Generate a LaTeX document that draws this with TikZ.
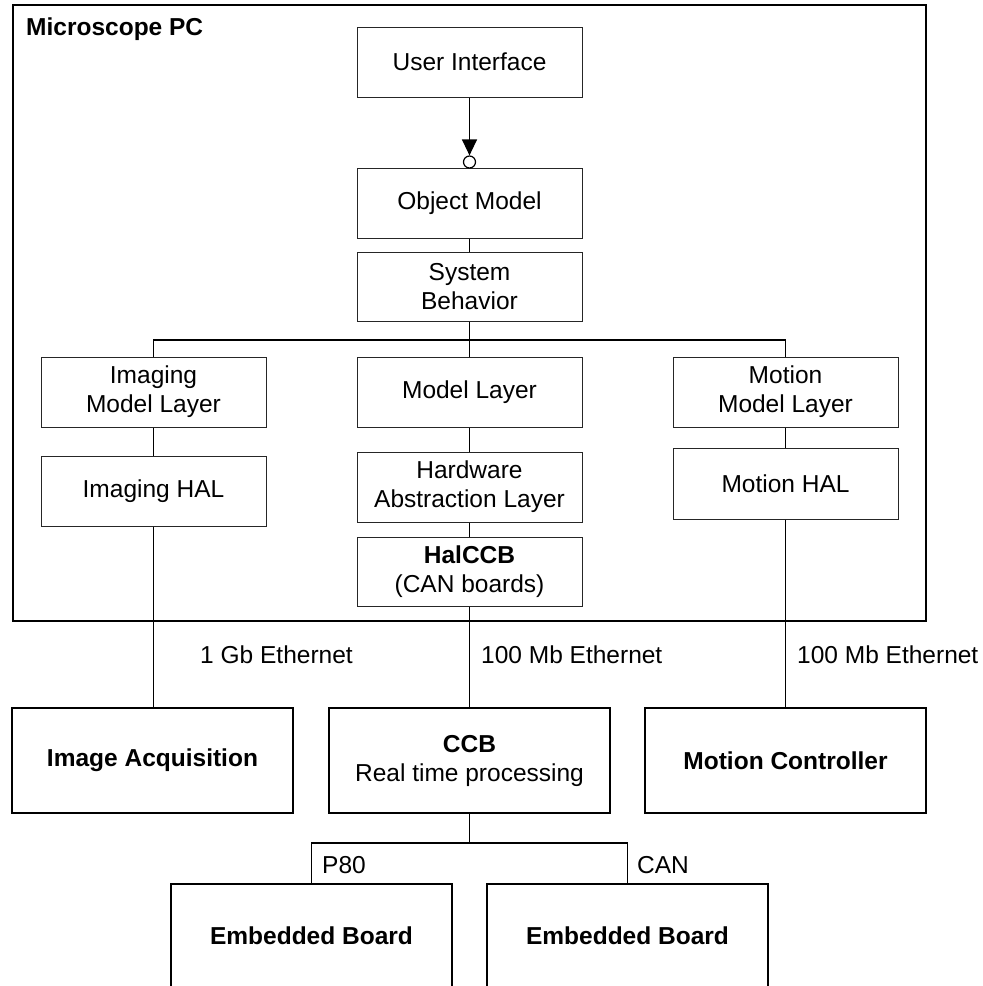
\documentclass[tikz,border=0pt]{standalone}
\usepackage{fontspec}
\setmainfont{Liberation Sans}
\usetikzlibrary{arrows.meta}

\tikzset{
  layer/.style={draw=black!85, line width=1pt, fill=white, minimum width=225pt,
    minimum height=70pt, align=center, inner sep=2pt,
    font=\fontsize{24.5}{29}\selectfont},
  unit/.style={draw, line width=1.5pt, fill=white, minimum width=281pt,
    minimum height=105pt, align=center, inner sep=2pt,
    font=\fontsize{24.5}{29}\selectfont},
  wire/.style={line width=1.3pt},
  lbl/.style={inner sep=0pt, anchor=west, font=\fontsize{24.5}{29}\selectfont},
}

\begin{document}
\begin{tikzpicture}[x=1pt, y=-1pt]
\clip (0,0) rectangle (983,986);
\fill[white] (0,0) rectangle (983,986);

% PC enclosure
\draw[line width=1.5pt] (13,5) rectangle (926,621);
\node[lbl, font=\fontsize{24.5}{29}\selectfont\bfseries] (pc) at (26,29) {Microscope PC};

% software layers
\node[layer] (ui)  at (469.5,62)    {User Interface};
\node[layer] (om)  at (469.5,203)   {Object Model};
\node[layer, minimum height=69pt] (sb) at (469.5,286.5) {System\\Behavior};

\node[layer] (iml)  at (153.5,392) {Imaging\\Model Layer};
\node[layer] (ml)   at (469.5,392) {Model Layer};
\node[layer] (mml)  at (785.5,392) {Motion\\Model Layer};

\node[layer] (ihal) at (153.5,491)   {Imaging HAL};
\node[layer] (hal)  at (469.5,487)   {Hardware\\Abstraction Layer};
\node[layer, minimum height=69pt] (hccb) at (469.5,571.5) {\textbf{HalCCB}\\(CAN boards)};
\node[layer, minimum height=71pt] (mhal) at (785.5,483.5) {Motion HAL};

% required interface socket on the object model
\node[draw, circle, line width=1.2pt, fill=white, minimum size=12pt, inner sep=0pt] (sock) at (469.5,162) {};
\draw[wire, -{Triangle[length=16pt, width=15pt]}] (ui.south) -- (sock.north);

% layer links
\coordinate (bus) at (469.5,340);
\draw[wire] (om.south) -- (sb.north);
\draw[wire] (sb.south) -- (bus);
\draw[wire] (iml.north) -- (iml.north |- bus) -- (mml.north |- bus) -- (mml.north);
\draw[wire] (ml.north) -- (bus);
\draw[wire] (iml.south) -- (ihal.north);
\draw[wire] (ml.south) -- (hal.north);
\draw[wire] (hal.south) -- (hccb.north);
\draw[wire] (mml.south) -- (mhal.north);

% hardware units
\node[unit] (ia)  at (152.5,760.5) {\textbf{Image Acquisition}};
\node[unit] (ccb) at (469.5,760.5) {\textbf{CCB}\\Real time processing};
\node[unit] (mc)  at (785.5,760.5) {\textbf{Motion Controller}};

\draw[wire] (ihal.south) -- (ihal.south |- ia.north);
\draw[wire] (hccb.south) -- (hccb.south |- ccb.north);
\draw[wire] (mhal.south) -- (mhal.south |- mc.north);

\node[lbl] (l1) at (200,655) {1 Gb Ethernet};
\node[lbl] (l2) at (481,655) {100 Mb Ethernet};
\node[lbl] (l3) at (797,655) {100 Mb Ethernet};

% embedded boards
\node[unit, minimum height=104pt] (eb1) at (311.5,936) {\textbf{Embedded Board}};
\node[unit, minimum height=104pt] (eb2) at (627.5,936) {\textbf{Embedded Board}};

\coordinate (split) at (469.5,843);
\draw[wire] (ccb.south) -- (split);
\draw[wire] (eb1.north) -- (eb1.north |- split) -- (eb2.north |- split) -- (eb2.north);

\node[lbl] (p80) at (322,865) {P80};
\node[lbl] (can) at (637,865) {CAN};
\end{tikzpicture}
\end{document}
